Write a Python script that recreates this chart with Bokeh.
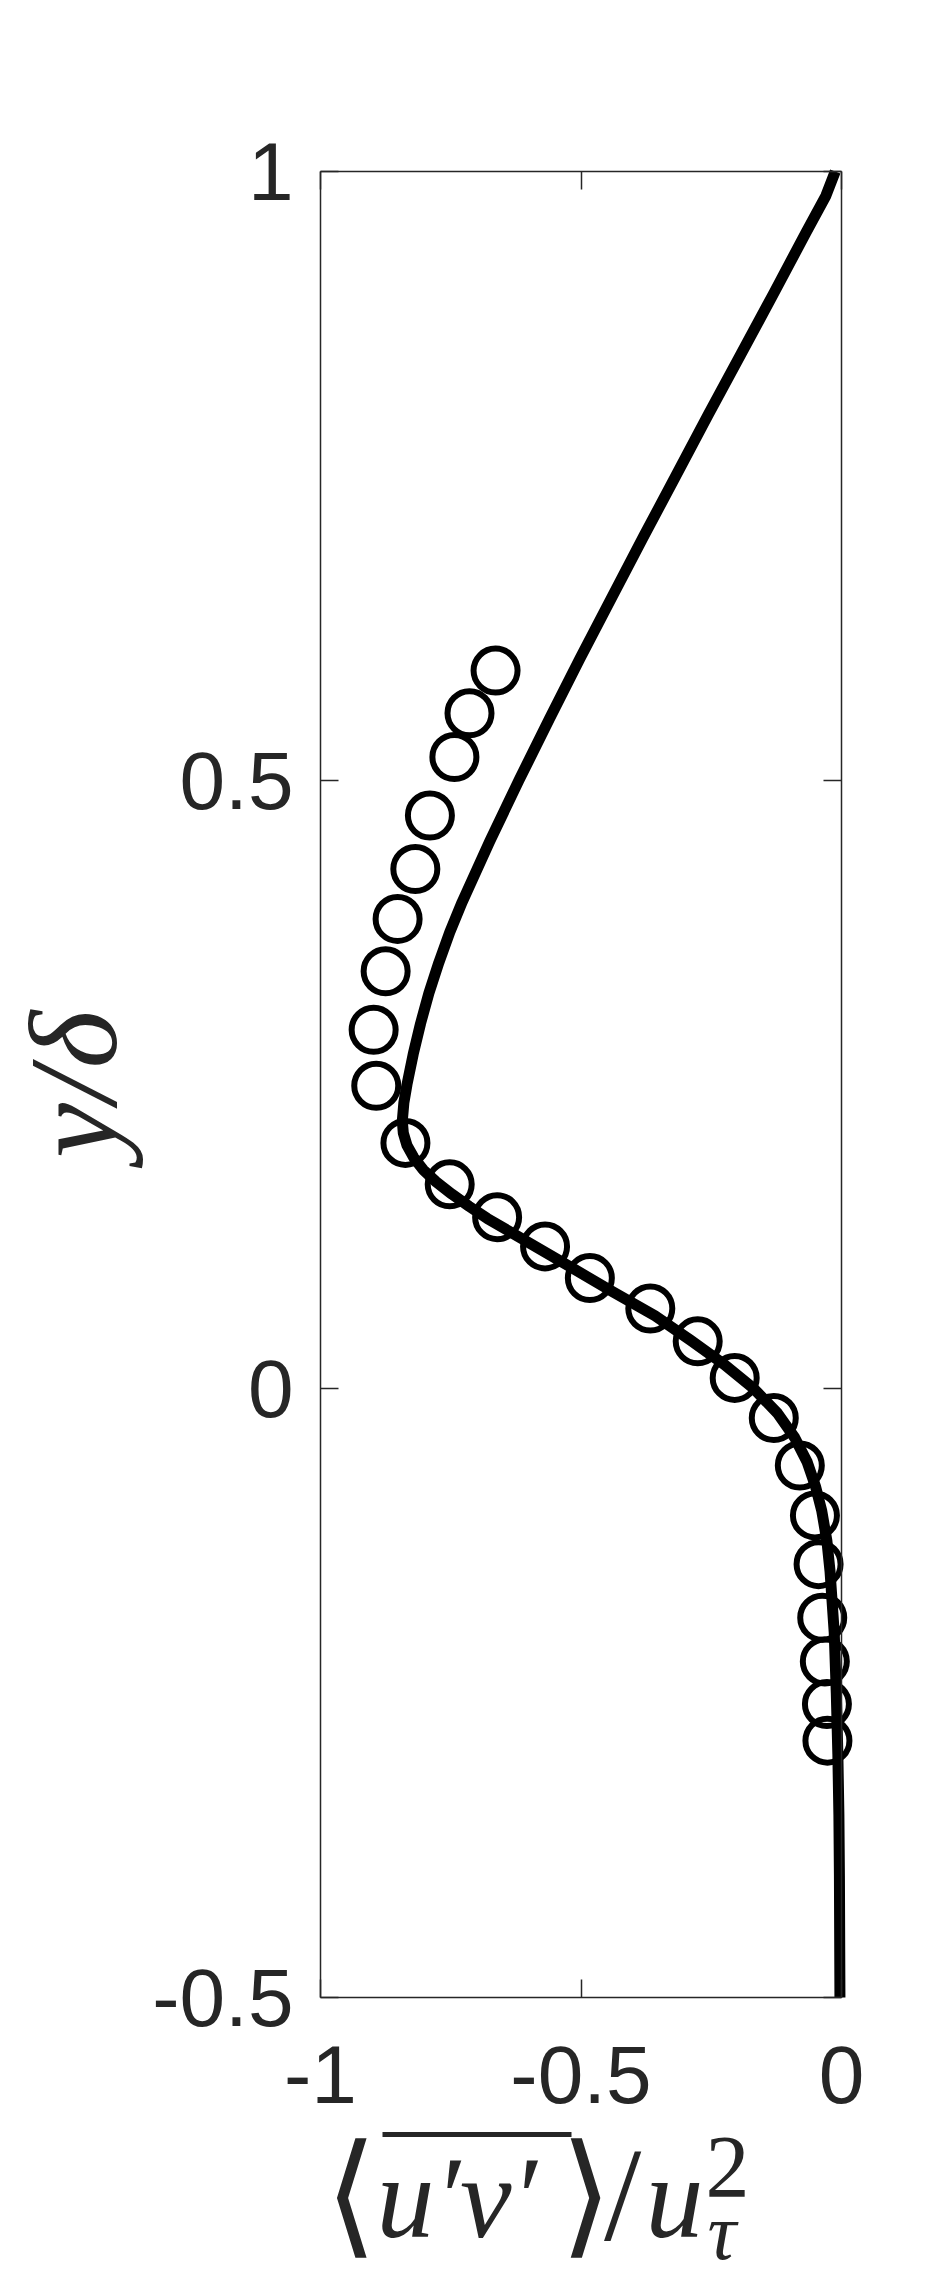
from bokeh.plotting import figure
from bokeh.models import Range1d, FixedTicker, LinearAxis, PrintfTickFormatter
from bokeh.core.properties import value
from bokeh.embed import file_html
from bokeh.resources import INLINE

# ---------------- data ----------------
x_ticks = [-1, -0.5, 0]
y_ticks = [-0.5, 0, 0.5, 1]
x_lim = (-1, 0)
y_lim = (-0.5, 1)

# solid curve (model / simulation)
line_y = [1.00, 0.98, 0.95, 0.90, 0.85, 0.80, 0.75, 0.70, 0.65, 0.60, 0.55,
          0.50, 0.45, 0.40, 0.375, 0.35, 0.325, 0.30, 0.275, 0.25, 0.235,
          0.22, 0.21, 0.20, 0.19, 0.18, 0.17, 0.16, 0.15, 0.14, 0.12, 0.10,
          0.08, 0.06, 0.04, 0.02, 0.00, -0.02, -0.04, -0.06, -0.08, -0.10,
          -0.125, -0.15, -0.20, -0.25, -0.30, -0.35, -0.40, -0.50]
line_x = [-0.012, -0.030, -0.068, -0.130, -0.193, -0.256, -0.318, -0.380,
          -0.441, -0.502, -0.561, -0.619, -0.675, -0.728, -0.752, -0.773,
          -0.792, -0.808, -0.822, -0.834, -0.840, -0.843, -0.841, -0.834,
          -0.821, -0.803, -0.778, -0.748, -0.715, -0.680, -0.600, -0.520,
          -0.440, -0.358, -0.290, -0.225, -0.168, -0.123, -0.090, -0.066,
          -0.050, -0.038, -0.028, -0.022, -0.014, -0.010, -0.007, -0.005,
          -0.004, -0.003]

# open circles (experiment)
dns_x = [-0.664, -0.714, -0.743, -0.790, -0.818, -0.852, -0.875, -0.898,
         -0.893, -0.837, -0.752, -0.661, -0.569, -0.483, -0.367, -0.276,
         -0.205, -0.130, -0.080, -0.051, -0.044, -0.037, -0.032, -0.028,
         -0.027]
dns_y = [0.590, 0.555, 0.519, 0.471, 0.427, 0.386, 0.343, 0.295, 0.249,
         0.202, 0.168, 0.141, 0.117, 0.091, 0.066, 0.039, 0.009, -0.024,
         -0.063, -0.104, -0.144, -0.188, -0.224, -0.259, -0.289]

# axis titles
y_title = "y/δ"
x_title_parts = ["⟨", "u′v′", "⟩", "/", "u", "2", "τ"]

# ---------------- layout (pixels) ----------------
W, H = 925, 2277
BOX_L, BOX_R, BOX_T, BOX_B = 320, 841, 171, 1997
kx = (BOX_R - BOX_L) / (x_lim[1] - x_lim[0])
ky = (BOX_B - BOX_T) / (y_lim[1] - y_lim[0])


def px2x(px):
    return x_lim[0] + (px - BOX_L) / kx


def py2y(py):
    return y_lim[1] - (py - BOX_T) / ky


AX = "#262626"
p = figure(width=W, height=H,
           x_range=Range1d(px2x(0), px2x(W)),
           y_range=Range1d(py2y(H), py2y(0)),
           output_backend="svg", toolbar_location=None,
           x_axis_location=None, y_axis_location=None, min_border=0)
p.outline_line_color = None
p.xgrid.grid_line_color = None
p.ygrid.grid_line_color = None


def make_axis(ticks, bounds, loc, show_labels):
    if show_labels:
        tk = FixedTicker(ticks=ticks)
    else:
        tk = FixedTicker(ticks=[], minor_ticks=ticks)
    ax = LinearAxis(ticker=tk, formatter=PrintfTickFormatter(format="%g"),
                    fixed_location=loc, bounds=bounds)
    ax.major_tick_in = 18
    ax.major_tick_out = 0
    ax.minor_tick_in = 18
    ax.minor_tick_out = 0
    ax.axis_line_color = AX
    ax.axis_line_width = 1.5
    ax.major_tick_line_color = AX
    ax.major_tick_line_width = 1.5
    ax.minor_tick_line_color = AX if not show_labels else None
    ax.minor_tick_line_width = 1.5
    ax.major_label_text_font = "Liberation Sans"
    ax.major_label_text_color = AX
    ax.major_label_text_font_size = "82px"
    return ax


bx = make_axis(x_ticks, x_lim, y_lim[0], True)
bx.major_label_standoff = 48
ly = make_axis(y_ticks, y_lim, x_lim[0], True)
ly.major_label_standoff = 27
ly.axis_label = y_title
ly.axis_label_text_font = "Liberation Serif"
ly.axis_label_text_font_style = "italic"
ly.axis_label_text_font_size = "124px"
ly.axis_label_text_color = AX
ly.axis_label_standoff = 6
p.add_layout(bx, "below")
p.add_layout(ly, "left")
p.add_layout(make_axis(x_ticks, x_lim, y_lim[1], False), "above")
p.add_layout(make_axis(y_ticks, y_lim, x_lim[1], False), "right")

p.line(line_x, line_y, line_color="black", line_width=11, line_join="round",
       line_cap="butt")
p.scatter(dns_x, dns_y, marker="circle", size=44, fill_color=None,
          line_color="black", line_width=6)


# ---------------- x-axis title (LaTeX-like pieces) ----------------
def t(txt, px, py, size, style="italic", align="left"):
    p.text(x=[px2x(px)], y=[py2y(py)], text=[txt],
           text_font=value("Liberation Serif"), text_font_size=size,
           text_font_style=style, text_color=AX, text_align=align,
           text_baseline="middle")


t(x_title_parts[0], 350, 2194, "134px", "normal", "center")
t(x_title_parts[1], 376, 2197, "116px")
p.segment(x0=[px2x(382)], y0=[py2y(2134)], x1=[px2x(571)], y1=[py2y(2134)],
          line_color=AX, line_width=5)
t(x_title_parts[2], 585, 2194, "134px", "normal", "center")
t(x_title_parts[3], 622, 2194, "134px", "normal", "center")
t(x_title_parts[4], 645, 2197, "116px")
t(x_title_parts[5], 705, 2166, "88px", "normal")
t(x_title_parts[6], 707, 2231, "80px")

open("out.html", "w").write(file_html(p, INLINE))
